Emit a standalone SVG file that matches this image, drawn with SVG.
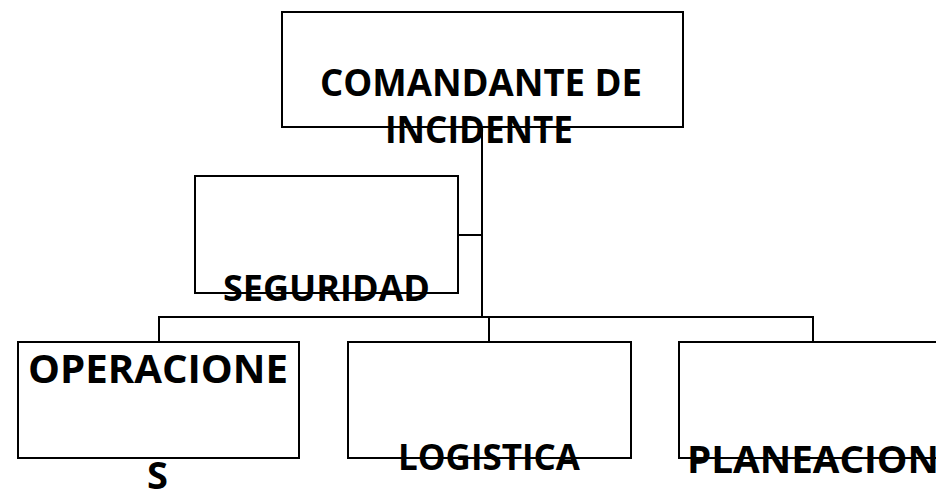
<svg xmlns="http://www.w3.org/2000/svg" width="936" height="493" viewBox="0 0 936 493">
<style>
.box{fill:#fff;stroke:#000;stroke-width:2}
.lbl{font-family:"Open Sans","Liberation Sans",Arial,sans-serif;font-weight:bold;fill:#000}
.wire{fill:none;stroke:#000;stroke-width:2}
</style>
<rect width="936" height="493" fill="#fff"/>
<g id="connectors">
<path class="wire" d="M482,127 V318" stroke-width="2.5"/>
<path class="wire" d="M458,235 H482"/>
<path class="wire" d="M159,342 V317 H813 V342"/>
<path class="wire" d="M489,317 V342"/>
</g>
<g id="comandante">
<rect class="box" x="282" y="12" width="401" height="115"/>
<text class="lbl" x="481" y="96" font-size="38" text-anchor="middle" textLength="322" lengthAdjust="spacingAndGlyphs">COMANDANTE DE</text>
<text class="lbl" x="479" y="143" font-size="38" text-anchor="middle" textLength="188" lengthAdjust="spacingAndGlyphs">INCIDENTE</text>
</g>
<g id="seguridad">
<rect class="box" x="195" y="176" width="263" height="117"/>
<text class="lbl" x="223" y="301" font-size="36" textLength="207" lengthAdjust="spacingAndGlyphs">SEGURIDAD</text>
</g>
<g id="operaciones">
<rect class="box" x="18" y="342" width="281" height="116"/>
<text class="lbl" x="28" y="383" font-size="40" textLength="260" lengthAdjust="spacingAndGlyphs">OPERACIONE</text>
<text class="lbl" x="147" y="489" font-size="38">S</text>
</g>
<g id="logistica">
<rect class="box" x="348" y="342" width="283" height="116"/>
<text class="lbl" x="398" y="470" font-size="35" textLength="182" lengthAdjust="spacingAndGlyphs">LOGISTICA</text>
</g>
<g id="planeacion">
<rect class="box" x="679" y="342" width="280" height="116"/>
<text class="lbl" x="687" y="473" font-size="38" textLength="252" lengthAdjust="spacingAndGlyphs">PLANEACION</text>
</g>
</svg>
